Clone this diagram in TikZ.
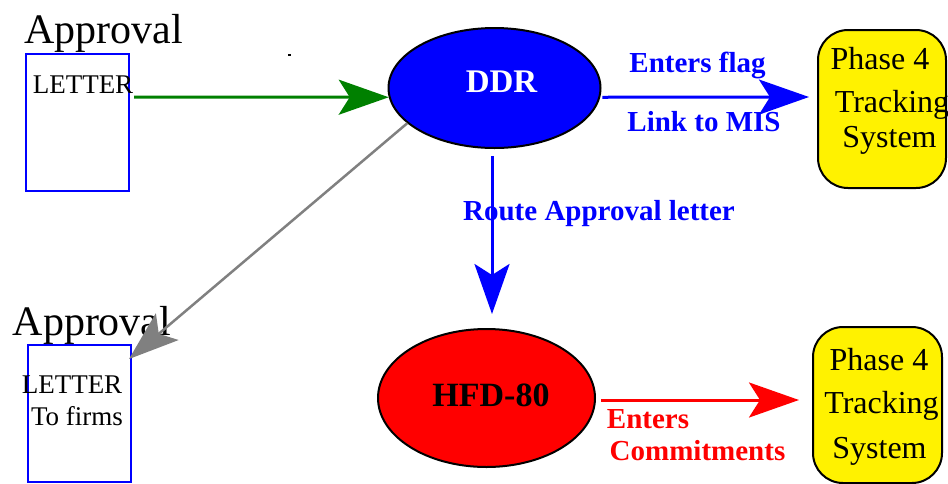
\documentclass[tikz,border=0pt]{standalone}
\usepackage{fontspec}
\setmainfont{Liberation Serif}
\usetikzlibrary{arrows.meta,calc,shapes.geometric}
\definecolor{flowgreen}{RGB}{0,128,0}
\definecolor{flowgray}{RGB}{128,128,128}
\tikzset{
  fs/.style={font=\fontsize{#1}{#1}\selectfont},
  fsb/.style={font=\fontsize{#1}{#1}\selectfont\bfseries},
  letterbox/.style={draw=blue, line width=2pt, minimum width=103pt,
    minimum height=137pt, inner sep=0pt},
  actor/.style={ellipse, draw=black, line width=2pt, inner sep=0pt},
  phasebox/.style={rectangle, rounded corners=30pt, draw=black, line width=2pt,
    fill=yellow, minimum width=128pt, minimum height=158pt, inner sep=0pt},
  txt/.style={anchor=base, inner sep=0pt},
  flowlabel/.style={anchor=base, inner sep=0pt, fsb=29},
  bighead/.style={-{Stealth[length=50pt,width=35pt,inset=11pt]}},
  flow/.style={line width=3pt, bighead},
}
\begin{document}
\begin{tikzpicture}[x=1pt,y=-1pt]
\useasboundingbox (0,0) rectangle (948,483);

% letter boxes
\node[letterbox] (letA) at (77.5,122.5) {};
\node[letterbox] (letB) at (79.5,413.5) {};

% actors
\node[actor, fill=blue, minimum width=212pt, minimum height=120pt] (ddr) at (494.5,88) {};
\node[actor, fill=red, minimum width=217pt, minimum height=138pt] (hfd) at (486.5,398) {};

% tracking system boxes
\node[phasebox] (ph1) at (882,109) {};
\node[phasebox, minimum width=129pt, minimum height=156pt] (ph2) at (877.5,405) {};

% texts
\node[txt, fs=42] (apA) at (103.5,43) {Approval};
\node[txt, fs=27] (ltA) at (83,93) {LETTER};
\node[txt, fs=42] (apB) at (92,335) {Approval};
\node[txt, fs=27] (ltB) at (72,393) {LETTER};
\node[txt, fs=27] (tfB) at (77,425) {To firms};

\node[txt, fsb=33, text=white] (ddrt) at (501.5,92.7) {DDR};
\node[txt, fsb=34, text=black] (hfdt) at (491,406) {HFD-80};

\node[txt, fs=32] (p1a) at (880,69) {Phase 4};
\node[txt, fs=32] (p1b) at (892,112) {Tracking};
\node[txt, fs=32] (p1c) at (889.5,147) {System};

\node[txt, fs=32] (p2a) at (879,370) {Phase 4};
\node[txt, fs=32] (p2b) at (881.5,413) {Tracking};
\node[txt, fs=32] (p2c) at (879.5,458) {System};

% connector labels
\node[flowlabel, text=blue] (l1) at (697.5,72) {Enters flag};
\node[flowlabel, text=blue] (l2) at (704,131) {Link to MIS};
\node[flowlabel, text=blue] (l3) at (599,220) {Route Approval letter};
\node[flowlabel, text=red] (l4) at (648,428) {Enters};
\node[flowlabel, text=red] (l5) at (697.5,460) {Commitments};

% stray mark
\fill (288,54) rectangle (291,55.5);

% connectors
\draw[flow, flowgreen] ($(letA.east)+(4,-25.5)$) -- (ddr.185);
\draw[flow, blue] ($(ddr.355)+(2,0)$) -- ($(ph1.west)+(-8,-12)$);
\draw[flowgray, line width=2.5pt, bighead] (ddr.202) -- ($(letB.north east)+(-3,15)$);
\draw[flow, blue] ($(ddr.south)+(-2.5,7)$) -- ($(hfd.north)+(5.5,-14)$);
\draw[flow, red] ($(hfd.east)+(5,2)$) -- ($(ph2.west)+(-13,-5)$);
\end{tikzpicture}
\end{document}
